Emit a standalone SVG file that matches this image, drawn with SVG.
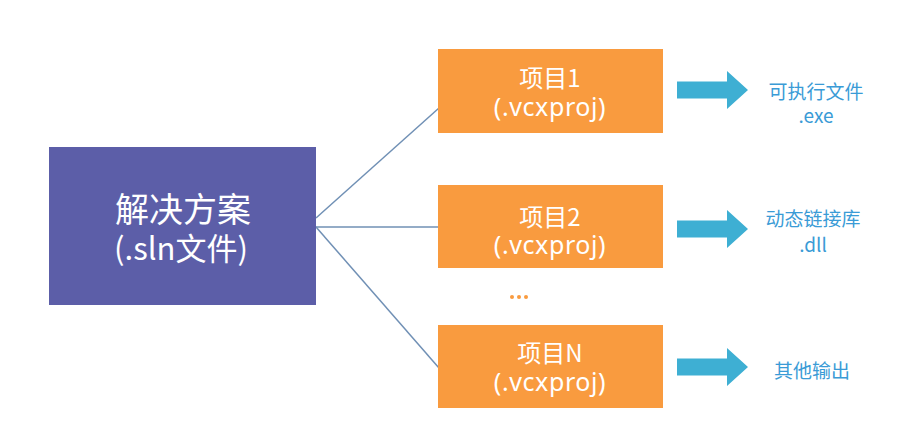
<svg xmlns="http://www.w3.org/2000/svg" width="920" height="435" viewBox="0 0 920 435">
<style>
.proj{fill:#F99B3F}
.pt{font-family:"Noto Sans CJK SC","Noto Sans",sans-serif;font-size:24px;fill:#ffffff;text-anchor:middle}
.pt2{font-family:"Noto Sans","Noto Sans CJK SC",sans-serif;font-size:25px;letter-spacing:0.6px;fill:#ffffff;text-anchor:middle}
.lbl{font-family:"Noto Sans CJK SC","Noto Sans",sans-serif;font-size:19px;fill:#3A9BD6;text-anchor:middle}
.arr{fill:#3EAFD3}
.con{stroke:#7090B5;stroke-width:1.5;fill:none}
</style>
<defs>
<path id="bigarrow" d="M0,-8.5 H50 V-19 L71,0 L50,19 V8.5 H0 Z"/>
</defs>
<rect width="920" height="435" fill="#ffffff"/>
<g id="connectors">
<line class="con" x1="316" y1="218" x2="439" y2="108"/>
<line class="con" x1="316" y1="227" x2="439" y2="227"/>
<line class="con" x1="316" y1="227" x2="439" y2="368"/>
</g>
<g id="solution">
<rect x="49" y="147" width="267" height="158" fill="#5C5EA8"/>
<text x="183" y="222" font-family="'Noto Sans CJK SC','Noto Sans',sans-serif" font-size="34" fill="#ffffff" text-anchor="middle">解决方案</text>
<text x="181" y="260" font-family="'Noto Sans CJK SC','Noto Sans',sans-serif" font-size="31" fill="#ffffff" text-anchor="middle">(.sln文件)</text>
</g>
<g id="proj1">
<rect class="proj" x="438" y="49" width="225" height="84"/>
<text class="pt" x="550" y="87">项目1</text>
<text class="pt2" x="550" y="116">(.vcxproj)</text>
</g>
<g id="proj2">
<rect class="proj" x="438" y="185" width="225" height="83"/>
<text class="pt" x="550" y="226">项目2</text>
<text class="pt2" x="550" y="254">(.vcxproj)</text>
</g>
<g id="ellipsis">
<circle cx="512" cy="297" r="2" fill="#F99B3F"/>
<circle cx="519" cy="297" r="2" fill="#F99B3F"/>
<circle cx="526" cy="297" r="2" fill="#F99B3F"/>
</g>
<g id="projN">
<rect class="proj" x="438" y="325" width="225" height="83"/>
<text class="pt" x="550" y="362">项目N</text>
<text class="pt2" x="550" y="391">(.vcxproj)</text>
</g>
<g id="arrow1"><use href="#bigarrow" class="arr" transform="translate(677,90)"/></g>
<g id="arrow2"><use href="#bigarrow" class="arr" transform="translate(677,229)"/></g>
<g id="arrowN"><use href="#bigarrow" class="arr" transform="translate(677,367)"/></g>
<g id="out1">
<text class="lbl" x="816" y="99">可执行文件</text>
<text class="lbl" x="816" y="123">.exe</text>
</g>
<g id="out2">
<text class="lbl" x="813" y="226">动态链接库</text>
<text class="lbl" x="813" y="252">.dll</text>
</g>
<g id="outN">
<text class="lbl" x="812" y="378">其他输出</text>
</g>
</svg>
